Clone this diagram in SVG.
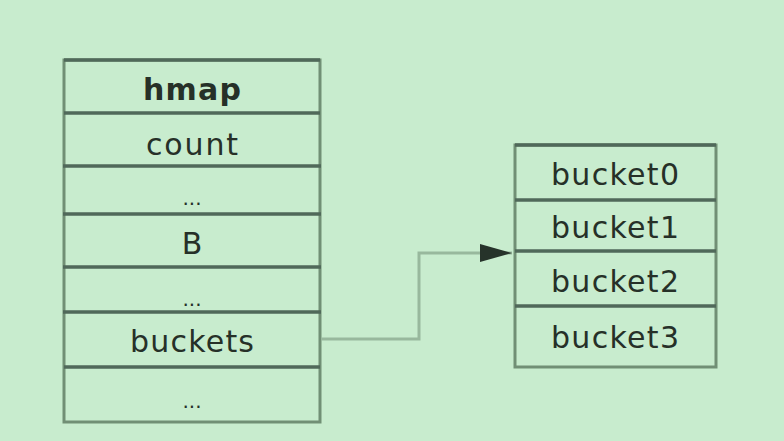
<svg xmlns="http://www.w3.org/2000/svg" width="784" height="441" viewBox="0 0 784 441">
<style>
.t{font-family:"DejaVu Sans","Liberation Sans",sans-serif;font-size:30px;fill:#263028;text-anchor:middle}
.b{font-weight:bold}
.d{font-size:20px}
.frame{fill:none;stroke:#718f75;stroke-width:3}
.div{stroke:#50695a;stroke-width:3.5}
.conn{fill:none;stroke:#98b89d;stroke-width:3}
</style>
<defs>
<marker id="ah" markerWidth="32" markerHeight="18" refX="32" refY="9" orient="auto" markerUnits="userSpaceOnUse">
<path d="M0,0 L32,9 L0,18 Z" fill="#26332a"/>
</marker>
</defs>
<rect width="784" height="441" fill="#c8ecce"/>
<g id="hmap">
<rect class="frame" x="64" y="60" width="256" height="362"/>
<line class="div" x1="64" y1="60" x2="320" y2="60"/>
<line class="div" x1="64" y1="113" x2="320" y2="113"/>
<line class="div" x1="63" y1="166" x2="321" y2="166"/>
<line class="div" x1="63" y1="214" x2="321" y2="214"/>
<line class="div" x1="63" y1="267" x2="321" y2="267"/>
<line class="div" x1="63" y1="312" x2="321" y2="312"/>
<line class="div" x1="64" y1="367" x2="320" y2="367"/>
<text class="t b" x="192" y="100" textLength="98" lengthAdjust="spacing">hmap</text>
<text class="t" x="192" y="155" textLength="92" lengthAdjust="spacing">count</text>
<text class="t d" x="192" y="205">...</text>
<text class="t" x="192" y="254">B</text>
<text class="t d" x="192" y="306">...</text>
<text class="t" x="192" y="352" textLength="124" lengthAdjust="spacing">buckets</text>
<text class="t d" x="192" y="408">...</text>
</g>
<g id="buckets">
<rect class="frame" x="515" y="145" width="201" height="222"/>
<line class="div" x1="515" y1="145" x2="716" y2="145"/>
<line class="div" x1="515" y1="200" x2="716" y2="200"/>
<line class="div" x1="515" y1="251" x2="716" y2="251"/>
<line class="div" x1="515" y1="306" x2="716" y2="306"/>
<text class="t" x="615" y="185" textLength="128" lengthAdjust="spacing">bucket0</text>
<text class="t" x="615" y="238" textLength="128" lengthAdjust="spacing">bucket1</text>
<text class="t" x="615" y="292" textLength="128" lengthAdjust="spacing">bucket2</text>
<text class="t" x="615" y="348" textLength="128" lengthAdjust="spacing">bucket3</text>
</g>
<g id="connectors">
<polyline class="conn" points="321,339 419,339 419,253 512,253" marker-end="url(#ah)"/>
</g>
</svg>
